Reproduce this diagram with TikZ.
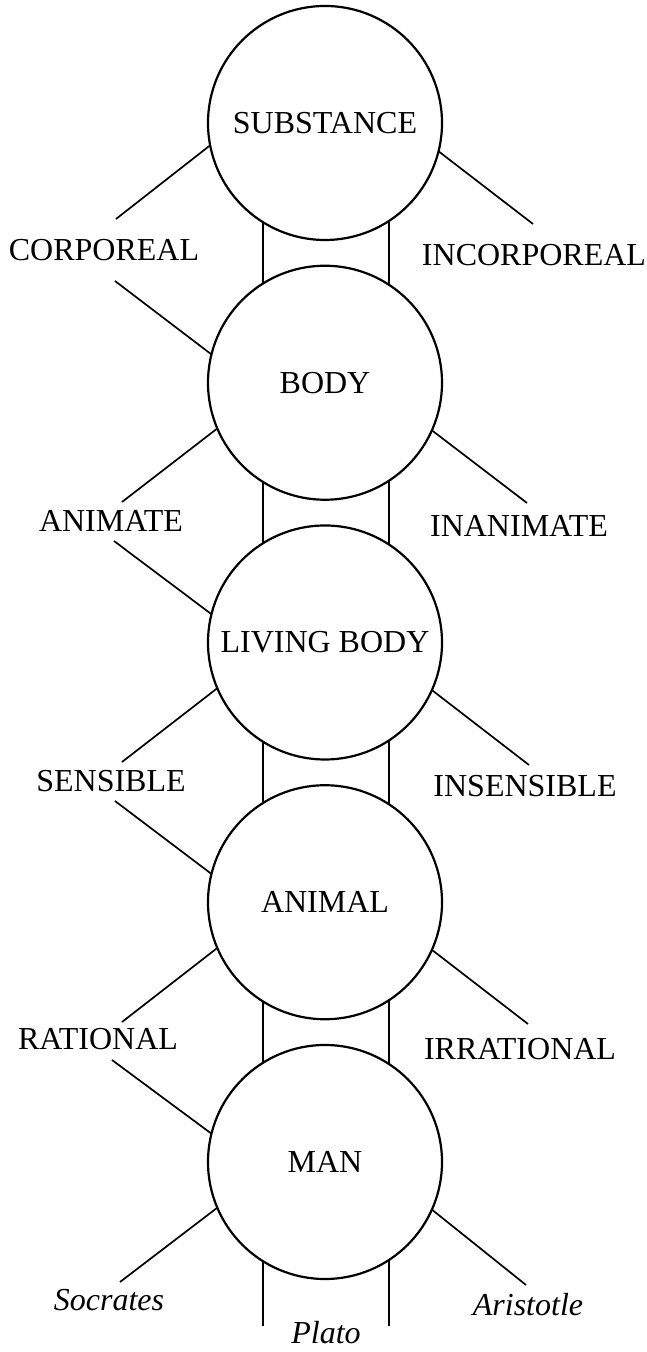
\documentclass[tikz,border=0pt]{standalone}
\usepackage{fontspec}
\setmainfont{Liberation Serif}
\usetikzlibrary{calc}
\begin{document}
\begin{tikzpicture}[x=1pt,y=1pt,
  cat/.style={circle, draw, line width=2.2pt, minimum size=234pt, inner sep=0pt, outer sep=0pt, font=\fontsize{32}{38}\selectfont},
  lbl/.style={inner sep=0pt, font=\fontsize{32}{38}\selectfont},
  ind/.style={inner sep=0pt, font=\fontsize{32}{38}\selectfont\itshape},
  link/.style={line width=1.7pt}]
\useasboundingbox[fill=white] (0,0) rectangle (647,1352);

% genus circles
\node[cat] (c1) at (325,1229)   {SUBSTANCE};
\node[cat] (c2) at (325,969.25) {BODY};
\node[cat] (c3) at (325,709.5)  {LIVING BODY};
\node[cat] (c4) at (325,449.75) {ANIMAL};
\node[cat] (c5) at (325,190)    {MAN};

% differentia labels
\node[lbl] (corp)   at (104,1102) {CORPOREAL};
\node[lbl] (incorp) at (534,1097) {INCORPOREAL};
\node[lbl] (anim)   at (111,831)  {ANIMATE};
\node[lbl] (inanim) at (519,826)  {INANIMATE};
\node[lbl] (sens)   at (111,571)  {SENSIBLE};
\node[lbl] (insens) at (525,566)  {INSENSIBLE};
\node[lbl] (rat)    at (98,313)   {RATIONAL};
\node[lbl] (irrat)  at (520,303)  {IRRATIONAL};

% individuals
\node[ind] (socr) at (109,52)  {Socrates};
\node[ind] (aris) at (528,47)  {Aristotle};
\node[ind] (plat) at (326,19)  {Plato};

% free line ends near labels
\coordinate (corpT)   at (116,1133);
\coordinate (corpB)   at (115,1071);
\coordinate (incorpT) at (533,1128);
\coordinate (animT)   at (122,850);
\coordinate (animB)   at (114,811);
\coordinate (inanimT) at (527,849);
\coordinate (sensT)   at (122,590);
\coordinate (sensB)   at (115,551);
\coordinate (insensT) at (529,587);
\coordinate (ratT)    at (122,330);
\coordinate (ratB)    at (112,292);
\coordinate (irratT)  at (528,328);
\coordinate (socrT)   at (120,70);
\coordinate (arisT)   at (526,67);
\coordinate (platL)   at (0,26);

% circle 1
\draw[link] (c1.191.7) -- (corpT);
\draw[link] (c1.346) -- (incorpT);
% circle 2
\draw[link] (corpB) -- (c2.166.4);
\draw[link] (c2.203) -- (animT);
\draw[link] (c2.336) -- (inanimT);
% circle 3
\draw[link] (animB) -- (c3.166.4);
\draw[link] (c3.203) -- (sensT);
\draw[link] (c3.336) -- (insensT);
% circle 4
\draw[link] (sensB) -- (c4.166.4);
\draw[link] (c4.203) -- (ratT);
\draw[link] (c4.336) -- (irratT);
% circle 5
\draw[link] (ratB) -- (c5.166.4);
\draw[link] (c5.203) -- (socrT);
\draw[link] (c5.336) -- (arisT);

% vertical connectors between circles
\draw[link] (c1.238) -- (c2.122);
\draw[link] (c1.303) -- (c2.57);
\draw[link] (c2.238) -- (c3.122);
\draw[link] (c2.303) -- (c3.57);
\draw[link] (c3.238) -- (c4.122);
\draw[link] (c3.303) -- (c4.57);
\draw[link] (c4.238) -- (c5.122);
\draw[link] (c4.303) -- (c5.57);
\draw[link] (c5.238) -- (c5.238 |- platL);
\draw[link] (c5.303) -- (c5.303 |- platL);
\end{tikzpicture}
\end{document}
